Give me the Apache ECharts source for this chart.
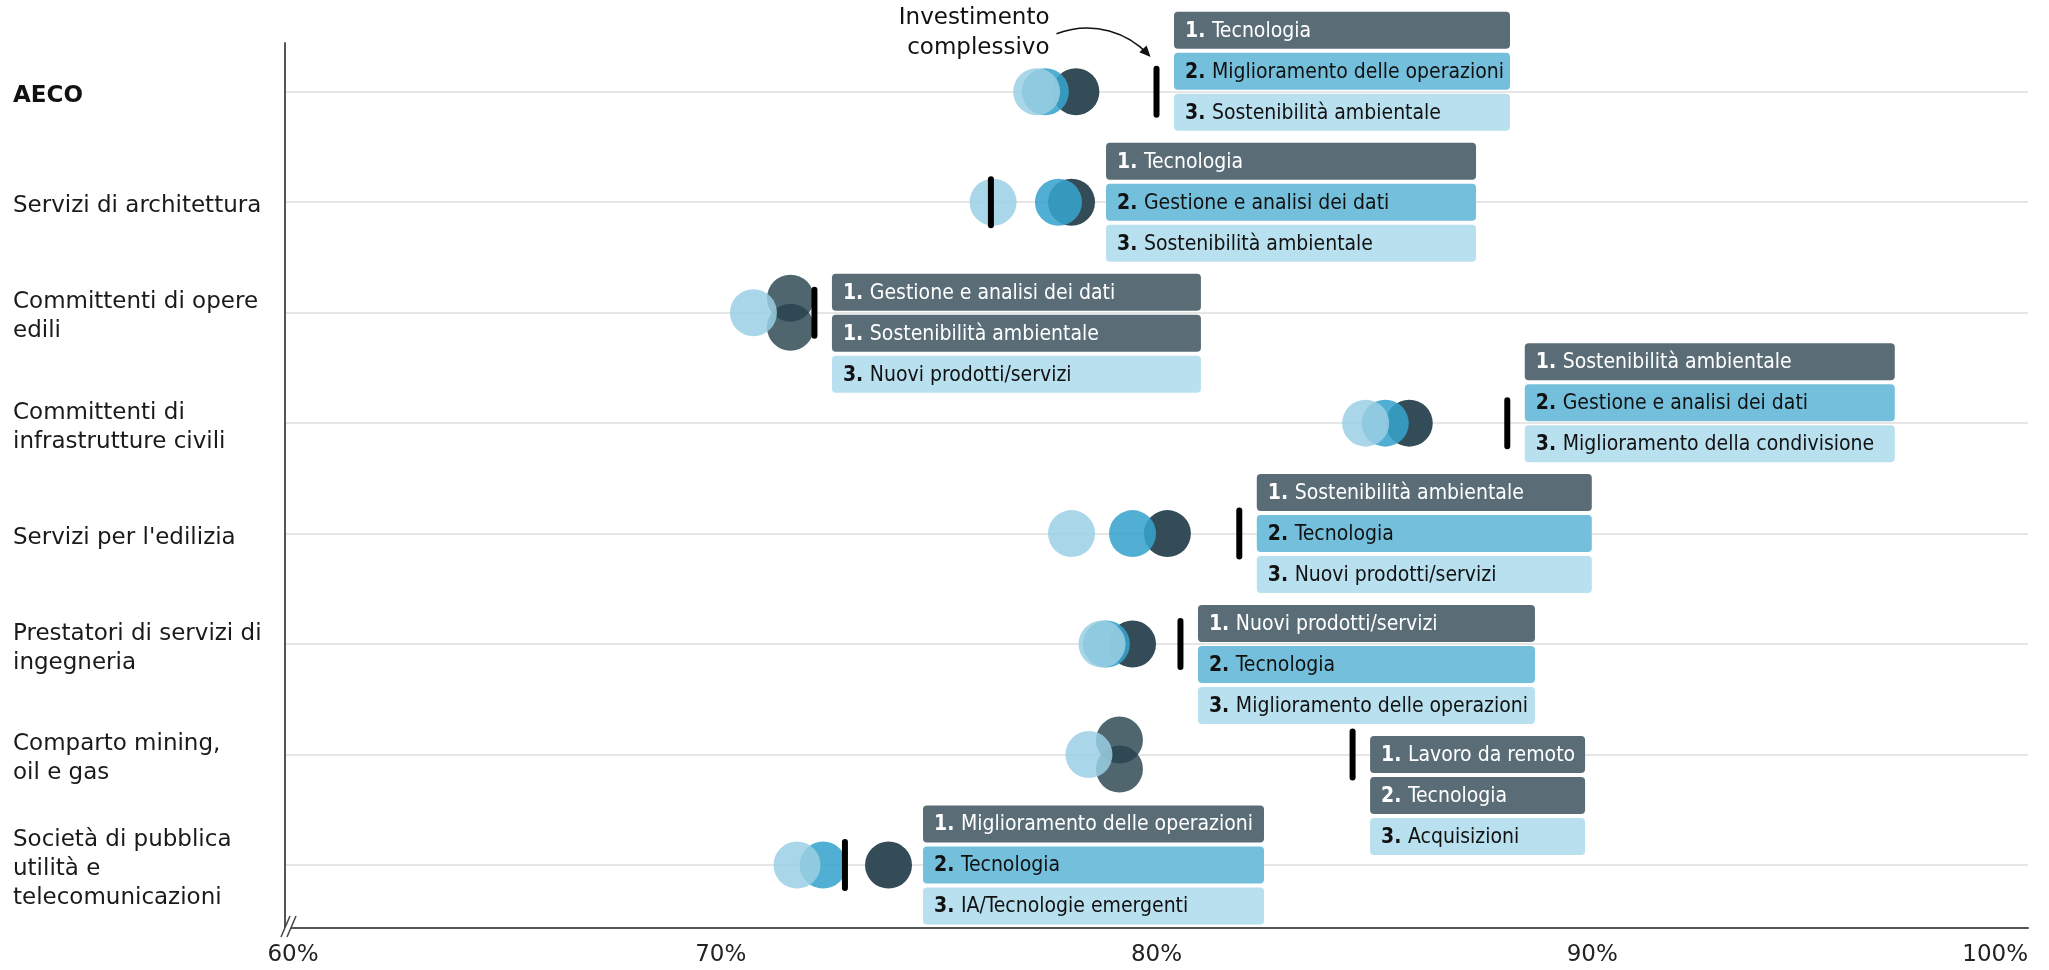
<!DOCTYPE html>
<html>
<head>
<meta charset="utf-8">
<script src="https://cdn.jsdelivr.net/npm/echarts@6/dist/echarts.min.js"></script>
<style>
html,body{margin:0;padding:0;background:#fff;}
#chart{width:2049px;height:970px;}
</style>
</head>
<body>
<div id="chart"></div>
<script>
// ---------- DATA ----------
const categories = [
  'AECO',
  'Servizi di architettura',
  'Committenti di opere\nedili',
  'Committenti di\ninfrastrutture civili',
  "Servizi per l'edilizia",
  'Prestatori di servizi di\ningegneria',
  'Comparto mining,\noil e gas',
  'Società di pubblica\nutilità e\ntelecomunicazioni'
];
const overallInvestment = [80.0, 76.2, 72.15, 88.05, 81.9, 80.55, 84.5, 72.85];
const rank1Values = [78.15, 78.05, 71.6, 85.8, 80.25, 79.45, 79.15, 73.85];
const rank2Values = [77.45, 77.75, 71.6, 85.25, 79.45, 78.85, 79.15, 72.35];
const rank3Values = [77.25, 76.25, 70.75, 84.8, 78.05, 78.75, 78.45, 71.75];
const rank2Tied = [false, false, true, false, false, false, true, false];
const rank1Topics = ['Tecnologia', 'Tecnologia', 'Gestione e analisi dei dati', 'Sostenibilità ambientale',
  'Sostenibilità ambientale', 'Nuovi prodotti/servizi', 'Lavoro da remoto', 'Miglioramento delle operazioni'];
const rank2Topics = ['Miglioramento delle operazioni', 'Gestione e analisi dei dati', 'Sostenibilità ambientale',
  'Gestione e analisi dei dati', 'Tecnologia', 'Tecnologia', 'Tecnologia', 'Tecnologia'];
const rank3Topics = ['Sostenibilità ambientale', 'Sostenibilità ambientale', 'Nuovi prodotti/servizi',
  'Miglioramento della condivisione', 'Nuovi prodotti/servizi', 'Miglioramento delle operazioni',
  'Acquisizioni', 'IA/Tecnologie emergenti'];
const rank1Numbers = ['1.', '1.', '1.', '1.', '1.', '1.', '1.', '1.'];
const rank2Numbers = ['2.', '2.', '1.', '2.', '2.', '2.', '2.', '2.'];
const rank3Numbers = ['3.', '3.', '3.', '3.', '3.', '3.', '3.', '3.'];
const xTicks = [60, 70, 80, 90, 100];
const annotationText = 'Investimento\ncomplessivo';

// ---------- LAYOUT / STYLE ----------
const boxWidths = [336, 370, 369, 370, 335, 337, 215, 341];
const boxShift = [-0.5, 0, 0.5, -0.5, 0, 0.5, 1, 0];
const FONT = "'DejaVu Sans', sans-serif";
const BOXFONT = "'DejaVu Sans Condensed', 'DejaVu Sans', sans-serif";
const DOT = 47, DOT_R = 23.5;
const BOX_H = 37, BOX_PITCH = 41;
const Y_MIN = -0.441, Y_MAX = 7.57;
const C_DARK = '#334c58';
const C_TIE = 'rgb(39,67,78)';
const C_MED = 'rgb(54,163,203)';
const C_LIGHT = 'rgb(154,207,228)';
const BOX_COLORS = ['#5a6d77', '#74c0dc', '#b9e0ef'];

const rowIdx = categories.map((c, i) => i);

const darkData = rowIdx.map(i => rank2Tied[i]
  ? {value: [rank1Values[i], i], symbolOffset: [0, -14.5], itemStyle: {color: C_TIE, opacity: 0.81}}
  : {value: [rank1Values[i], i]});
const medData = rowIdx.map(i => rank2Tied[i]
  ? {value: [rank2Values[i], i], symbolOffset: [0, 14.5], itemStyle: {color: C_TIE, opacity: 0.81}}
  : {value: [rank2Values[i], i]});
const lightData = rowIdx.map(i => [rank3Values[i], i]);
const barData = rowIdx.map(i => [overallInvestment[i], i]);
const boxData = rowIdx.map(i => [overallInvestment[i], i,
  Math.max(rank1Values[i], rank2Values[i], rank3Values[i])]);

function boxText(num, topic, dark) {
  return {
    text: '{n|' + num + ' }{t|' + topic + '}',
    rich: {
      n: {fontFamily: BOXFONT, fontSize: 21, fontWeight: 'bold', fill: dark ? '#fff' : '#111'},
      t: {fontFamily: BOXFONT, fontSize: 21, fill: dark ? '#fff' : '#111'}
    }
  };
}

function renderBoxes(params, api) {
  const i = api.value(1);
  const barPt = api.coord([api.value(0), i]);
  const dotPt = api.coord([api.value(2), i]);
  const left = Math.max(barPt[0] + 2.5 + 15, dotPt[0] + DOT_R + 11);
  const cy = barPt[1] + boxShift[i] * BOX_PITCH;
  const rows = [
    [rank1Numbers[i], rank1Topics[i], 0],
    [rank2Numbers[i], rank2Topics[i], rank2Tied[i] ? 0 : 1],
    [rank3Numbers[i], rank3Topics[i], 2]
  ];
  const children = [];
  rows.forEach((r, k) => {
    const top = cy + (k - 1) * BOX_PITCH - BOX_H / 2;
    children.push({type: 'rect', shape: {x: left, y: top, width: boxWidths[i], height: BOX_H, r: 4},
      style: {fill: BOX_COLORS[r[2]]}});
    const t = boxText(r[0], r[1], r[2] === 0);
    children.push({type: 'text', style: Object.assign({x: left + 11, y: top + BOX_H / 2 + 1,
      align: 'left', verticalAlign: 'middle'}, t)});
  });
  if (i === 0) {
    const bx = barPt[0], by = barPt[1];
    children.push({type: 'text', style: {text: annotationText, x: bx - 107, y: by - 58.5,
      align: 'right', verticalAlign: 'middle', fontFamily: FONT, fontSize: 23, lineHeight: 30, fill: '#111'}});
    const ex = bx - 8, ey = by - 37;
    children.push({type: 'bezierCurve', shape: {x1: bx - 100, y1: by - 58, cpx1: bx - 62, cpy1: by - 72,
      cpx2: bx - 28, cpy2: by - 58, x2: ex, y2: ey}, style: {stroke: '#111', lineWidth: 1.6, fill: null}});
    const dx = ex - (bx - 28), dy = ey - (by - 58);
    const len = Math.sqrt(dx * dx + dy * dy), ux = dx / len, uy = dy / len;
    const tipX = ex + ux * 3, tipY = ey + uy * 3;
    const bxp = tipX - ux * 11, byp = tipY - uy * 11;
    children.push({type: 'polygon', shape: {points: [[tipX, tipY],
      [bxp - uy * 5, byp + ux * 5], [bxp + uy * 5, byp - ux * 5]]}, style: {fill: '#111'}});
  }
  if (i === categories.length - 1) {
    const c = api.coord([xTicks[0], Y_MAX]);
    const x = c[0], y = c[1];
    children.push({type: 'polygon', shape: {points: [[x - 4, y + 9], [x + 5, y - 12], [x + 11, y - 12], [x + 2, y + 9]]},
      style: {fill: '#fff'}});
    children.push({type: 'line', shape: {x1: x - 4, y1: y + 9, x2: x + 5, y2: y - 12}, style: {stroke: '#444', lineWidth: 1.5}});
    children.push({type: 'line', shape: {x1: x + 2, y1: y + 9, x2: x + 11, y2: y - 12}, style: {stroke: '#444', lineWidth: 1.5}});
  }
  return {type: 'group', children: children};
}

const chart = echarts.init(document.getElementById('chart'), null, {renderer: 'canvas'});
chart.setOption({
  animation: false,
  backgroundColor: '#fff',
  grid: {left: 285, right: 21, top: 43, bottom: 42},
  xAxis: {
    type: 'value', min: xTicks[0], max: xTicks[xTicks.length - 1], interval: 10,
    axisLine: {show: true, onZero: false, lineStyle: {color: '#555', width: 2}},
    axisTick: {show: false}, splitLine: {show: false},
    axisLabel: {
      formatter: v => v === xTicks[0] ? '{m|' + v + '%}' : v + '%',
      fontFamily: FONT, fontSize: 23, color: '#222', margin: 16, alignMaxLabel: 'right',
      rich: {m: {fontFamily: FONT, fontSize: 23, color: '#222', padding: [0, 0, 0, 16]}}
    }
  },
  yAxis: {
    type: 'value', inverse: true, min: Y_MIN, max: Y_MAX,
    axisLine: {show: true, onZero: false, lineStyle: {color: '#555', width: 2}},
    axisTick: {show: false, customValues: rowIdx}, splitLine: {show: false},
    axisLabel: {
      customValues: rowIdx,
      formatter: v => { const i = Math.round(v); return i === 0 ? '{b|' + categories[0] + '}' : categories[i]; },
      align: 'left', margin: 272, fontFamily: FONT, fontSize: 23, lineHeight: 29, color: '#1a1a1a',
      padding: [8, 0, 0, 0],
      rich: {b: {fontFamily: FONT, fontSize: 23, fontWeight: 'bold', color: '#111'}}
    }
  },
  series: [
    {
      type: 'scatter', data: [[xTicks[0], 0]], symbolSize: 0, z: 0, silent: true,
      markLine: {silent: true, z: 0, symbol: ['none', 'none'], label: {show: false},
        lineStyle: {color: '#e6e6e6', width: 2, type: 'solid'},
        data: rowIdx.map(i => ({yAxis: i}))}
    },
    {type: 'scatter', name: 'rank1', data: darkData, symbolSize: DOT, z: 2,
      itemStyle: {color: C_DARK, opacity: 1}},
    {type: 'scatter', name: 'rank2', data: medData, symbolSize: DOT, z: 3,
      itemStyle: {color: C_MED, opacity: 0.87}},
    {type: 'scatter', name: 'rank3', data: lightData, symbolSize: DOT, z: 4,
      itemStyle: {color: C_LIGHT, opacity: 0.85}},
    {type: 'scatter', name: 'overall', data: barData,
      symbol: 'path://M0,3 A3,3 0 0 1 6,3 L6,49 A3,3 0 0 1 0,49 Z',
      symbolSize: [6, 52], z: 5, itemStyle: {color: '#000', opacity: 1}},
    {type: 'custom', name: 'topics', data: boxData, renderItem: renderBoxes, z: 7, clip: false, silent: true}
  ]
});
</script>
</body>
</html>
